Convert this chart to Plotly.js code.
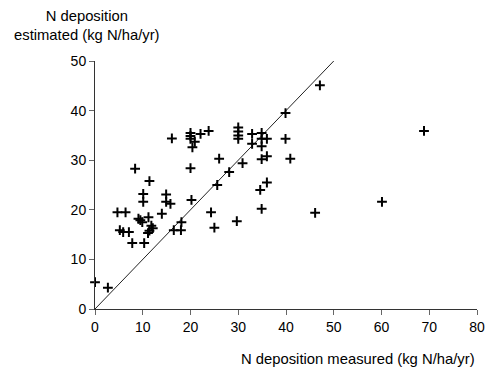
<!DOCTYPE html>
<html>
<head>
<meta charset="utf-8">
<script src="https://cdn.plot.ly/plotly-3.0.1.min.js"></script>
<style>
html,body{margin:0;padding:0;background:#fff;}
#chart{width:486px;height:372px;}
</style>
</head>
<body>
<div id="chart"></div>
<script>
// Measured vs estimated N deposition (kg N/ha/yr)
const measured = [
  0, 2.7, 4.7, 6.4, 5.2, 5.9, 7.1, 7.8, 8.4, 9.1,
  9.5, 9.9, 10.1, 10.1, 10.3, 11.4, 11.2, 11.8, 12.1, 11.4,
  11.1, 14.0, 14.9, 14.9, 15.8, 16.1, 16.5, 18.0, 18.1, 20.0,
  20.0, 20.0, 20.9, 20.4, 22.1, 23.8, 20.0, 26.0, 20.2, 24.3,
  25.0, 25.6, 28.1, 29.7, 30.0, 30.0, 30.0, 30.0, 30.9, 32.9,
  32.9, 34.9, 34.9, 36.0, 34.9, 34.9, 36.0, 36.0, 34.6, 34.9,
  39.9, 39.9, 40.9, 47.1, 46.1, 60.1, 68.9
];
const estimated = [
  5.4, 4.3, 19.5, 19.5, 15.9, 15.5, 15.5, 13.3, 28.3, 18.2,
  17.9, 17.5, 23.2, 21.6, 13.3, 25.8, 18.5, 16.8, 16.3, 15.8,
  15.3, 19.2, 23.1, 21.6, 21.2, 34.4, 15.9, 15.9, 17.5, 35.5,
  34.9, 34.3, 33.7, 32.6, 35.3, 35.9, 28.4, 30.3, 22.0, 19.5,
  16.4, 25.0, 27.6, 17.7, 36.6, 35.8, 35.0, 34.3, 29.4, 35.3,
  33.3, 35.5, 34.3, 34.3, 32.8, 30.2, 30.8, 25.5, 24.0, 20.2,
  39.5, 34.3, 30.3, 45.1, 19.4, 21.6, 35.9
];
const lineX = [0, 50];
const lineY = [0, 50];
const xTicks = [0, 10, 20, 30, 40, 50, 60, 70, 80];
const yTicks = [0, 10, 20, 30, 40, 50];
const xTitle = "N deposition measured (kg N/ha/yr)";
const yTitle = "N deposition<br>estimated (kg N/ha/yr)";

const font = {family: "Liberation Sans, Arial, sans-serif", size: 14, color: "#000"};
const titleFont = {family: "Liberation Sans, Arial, sans-serif", size: 14.8, color: "#000"};

const traces = [
  {
    x: lineX, y: lineY, mode: "lines", type: "scatter",
    line: {color: "#222", width: 1}, hoverinfo: "skip"
  },
  {
    x: measured, y: estimated, mode: "markers", type: "scatter",
    cliponaxis: false,
    marker: {symbol: "cross-thin", size: 7, color: "#000",
             line: {color: "#000", width: 2}}
  }
];

const layout = {
  width: 486, height: 372,
  margin: {l: 95, r: 9, t: 61, b: 63},
  paper_bgcolor: "#fff", plot_bgcolor: "#fff",
  showlegend: false,
  font: font,
  xaxis: {
    range: [0, 80], tickvals: xTicks, ticktext: xTicks.map(String),
    showgrid: false, zeroline: false, showline: true, linecolor: "#333", linewidth: 1,
    ticks: "outside", ticklen: 5, tickcolor: "#666", tickwidth: 1,
    tickfont: font, fixedrange: true
  },
  yaxis: {
    range: [0, 50], tickvals: yTicks, ticktext: yTicks.map(String),
    showgrid: false, zeroline: false, showline: true, linecolor: "#333", linewidth: 1,
    ticks: "outside", ticklen: 5, tickcolor: "#666", tickwidth: 1,
    tickfont: font, fixedrange: true
  },
  annotations: [
    {text: xTitle, xref: "paper", yref: "paper", x: 1, y: -0.2, xanchor: "right", yanchor: "middle",
     showarrow: false, font: titleFont},
    {text: yTitle, xref: "paper", yref: "paper", x: -0.02, y: 1.142, xanchor: "center", yanchor: "middle",
     showarrow: false, font: titleFont, align: "center"}
  ]
};

Plotly.newPlot("chart", traces, layout, {displayModeBar: false, staticPlot: true});
</script>
</body>
</html>
